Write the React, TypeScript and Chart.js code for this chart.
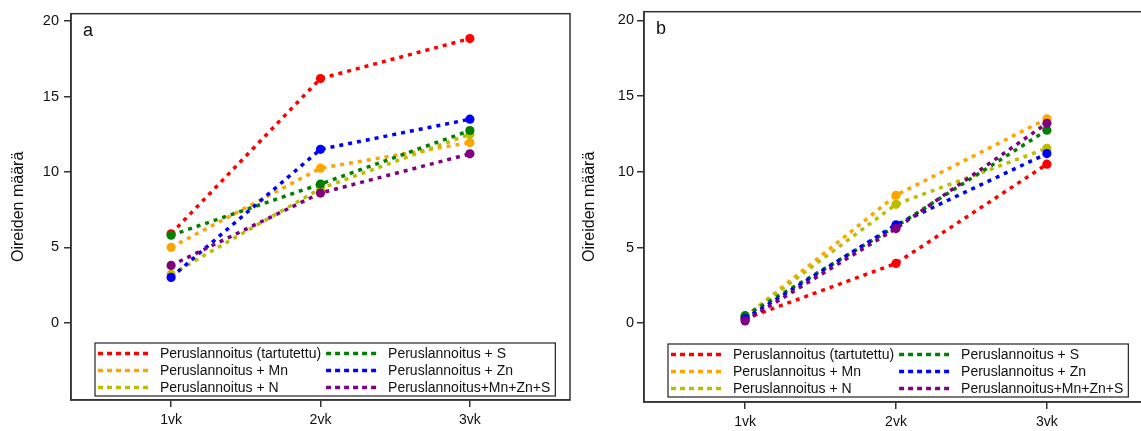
import React, { useEffect, useRef } from 'react';
import { Chart, registerables } from 'chart.js';

Chart.register(...registerables);

// ---- data ----
const categories = ['1vk', '2vk', '3vk'];
const xPositions = [1, 2, 3];
const yTicks = [0, 5, 10, 15, 20];
const yTitle = 'Oireiden määrä';

const seriesLabels = [
  'Peruslannoitus (tartutettu)',
  'Peruslannoitus + Mn',
  'Peruslannoitus + N',
  'Peruslannoitus + S',
  'Peruslannoitus + Zn',
  'Peruslannoitus+Mn+Zn+S',
];
const seriesColors = ['#FF0000', '#FFA500', '#BDBD00', '#008000', '#0000FF', '#800080'];

// panel a
const aTartutettu = [5.9, 16.2, 18.85];
const aMn = [5.0, 10.25, 11.95];
const aN = [3.2, 8.9, 12.5];
const aS = [5.8, 9.2, 12.75];
const aZn = [3.0, 11.5, 13.5];
const aMnZnS = [3.8, 8.6, 11.2];

// panel b
const bTartutettu = [0.3, 3.95, 10.5];
const bMn = [0.4, 8.45, 13.5];
const bN = [0.45, 7.85, 11.55];
const bS = [0.5, 6.4, 12.75];
const bZn = [0.3, 6.5, 11.2];
const bMnZnS = [0.15, 6.25, 13.2];

const panelAData = [aTartutettu, aMn, aN, aS, aZn, aMnZnS];
const panelBData = [bTartutettu, bMn, bN, bS, bZn, bMnZnS];

const FONT = '"Liberation Sans", Arial, Helvetica, sans-serif';

type PanelCfg = {
  letter: string;
  data: number[][];
  yMin: number;
  yMax: number;
  padTop: number;
  padRight: number;
  yAxisWidth: number;
  xAxisHeight: number;
  titlePad: number;
  tickPad: number;
  legendLeft: number;
  legendBottom: number;
};

function makeChart(canvas: HTMLCanvasElement, p: PanelCfg) {
  const datasets = p.data.map((vals, i) => ({
    label: seriesLabels[i],
    data: vals.map((v, j) => ({ x: xPositions[j], y: v })),
    borderColor: seriesColors[i],
    backgroundColor: seriesColors[i],
    pointBackgroundColor: seriesColors[i],
    pointBorderWidth: 0,
    pointRadius: 4.6,
    borderWidth: 3.5,
    borderDash: [4, 5],
    borderCapStyle: 'butt' as const,
    tension: 0,
    order: seriesLabels.length - 1 - i,
  }));

  const framePlugin = {
    id: 'frameLegend',
    afterDraw(chart: any) {
      const { ctx, chartArea: ca } = chart;
      ctx.save();
      ctx.strokeStyle = '#333';
      ctx.lineWidth = 1.5;
      ctx.strokeRect(ca.left, ca.top, ca.right - ca.left, ca.bottom - ca.top);

      ctx.fillStyle = '#111';
      ctx.font = `18px ${FONT}`;
      ctx.textBaseline = 'alphabetic';
      ctx.textAlign = 'left';
      ctx.fillText(p.letter, ca.left + 12, ca.top + 22);

      // legend
      ctx.font = `14px ${FONT}`;
      const boxLeft = ca.left + p.legendLeft;
      const boxBottom = ca.bottom - p.legendBottom;
      const boxTop = boxBottom - 53;
      const text1X = boxLeft + 65;
      const w1 = Math.max(...[0, 1, 2].map((i) => ctx.measureText(seriesLabels[i]).width));
      const sample2X = text1X + w1 + 5;
      const text2X = sample2X + 62;
      const w2 = Math.max(...[3, 4, 5].map((i) => ctx.measureText(seriesLabels[i]).width));
      const boxRight = text2X + w2 + 5;

      ctx.fillStyle = '#fff';
      ctx.fillRect(boxLeft, boxTop, boxRight - boxLeft, boxBottom - boxTop);
      ctx.strokeStyle = '#222';
      ctx.lineWidth = 1.2;
      ctx.strokeRect(boxLeft, boxTop, boxRight - boxLeft, boxBottom - boxTop);

      for (let i = 0; i < 6; i++) {
        const col = Math.floor(i / 3);
        const row = i % 3;
        const y = boxTop + 10.5 + row * 17;
        const sx = col === 0 ? boxLeft + 3 : sample2X;
        const tx = col === 0 ? text1X : text2X;
        ctx.strokeStyle = seriesColors[i];
        ctx.lineWidth = 3.5;
        ctx.setLineDash([5, 4]);
        ctx.beginPath();
        ctx.moveTo(sx, y);
        ctx.lineTo(sx + 50, y);
        ctx.stroke();
        ctx.setLineDash([]);
        ctx.fillStyle = '#111';
        ctx.textBaseline = 'middle';
        ctx.fillText(seriesLabels[i], tx, y + 1);
      }
      ctx.restore();
    },
  };

  return new Chart(canvas, {
    type: 'line',
    data: { datasets },
    plugins: [framePlugin],
    options: {
      responsive: false,
      animation: false,
      layout: { padding: { top: p.padTop, right: p.padRight, left: 0, bottom: 0 } },
      plugins: {
        legend: { display: false },
        tooltip: { enabled: false },
      },
      scales: {
        x: {
          type: 'linear',
          min: 0.33,
          max: 3.67,
          afterBuildTicks: (s: any) => {
            s.ticks = xPositions.map((v) => ({ value: v }));
          },
          afterFit: (s: any) => {
            s.height = p.xAxisHeight;
          },
          grid: {
            drawOnChartArea: false,
            drawTicks: true,
            tickLength: 7,
            color: '#333',
            lineWidth: 1.5,
          },
          border: { display: true, color: '#333', width: 1.5 },
          ticks: {
            padding: 5,
            color: '#111',
            font: { family: FONT, size: 14 },
            callback: (v: any) => {
              const idx = xPositions.indexOf(Number(v));
              return idx >= 0 ? categories[idx] : '';
            },
            maxRotation: 0,
          },
        },
        y: {
          type: 'linear',
          min: p.yMin,
          max: p.yMax,
          afterBuildTicks: (s: any) => {
            s.ticks = yTicks.map((v) => ({ value: v }));
          },
          afterFit: (s: any) => {
            s.width = p.yAxisWidth;
          },
          grid: {
            drawOnChartArea: false,
            drawTicks: true,
            tickLength: 7,
            color: '#333',
            lineWidth: 1.5,
          },
          border: { display: true, color: '#333', width: 1.5 },
          ticks: {
            padding: p.tickPad,
            color: '#111',
            font: { family: FONT, size: 14.5 },
          },
          title: {
            display: true,
            text: yTitle,
            color: '#111',
            font: { family: FONT, size: 16 },
            padding: { top: p.titlePad, bottom: 0 },
          },
        },
      },
    },
  } as any);
}

function Panel({ cfg, left, width }: { cfg: PanelCfg; left: number; width: number }) {
  const ref = useRef<HTMLCanvasElement | null>(null);
  useEffect(() => {
    if (!ref.current) return;
    const chart = makeChart(ref.current, cfg);
    return () => chart.destroy();
  }, []);
  return (
    <canvas
      ref={ref}
      width={width}
      height={431}
      style={{ position: 'absolute', left, top: 0, width, height: 431, display: 'block' }}
    />
  );
}

const cfgA: PanelCfg = {
  letter: 'a',
  data: panelAData,
  yMin: -5.13,
  yMax: 20.5,
  padTop: 11,
  padRight: 5,
  yAxisWidth: 71,
  xAxisHeight: 31,
  titlePad: 9,
  tickPad: 5,
  legendLeft: 24,
  legendBottom: 4,
};

const cfgB: PanelCfg = {
  letter: 'b',
  data: panelBData,
  yMin: -5.2,
  yMax: 20.57,
  padTop: 8,
  padRight: 7,
  yAxisWidth: 69,
  xAxisHeight: 29,
  titlePad: 5,
  tickPad: 3,
  legendLeft: 24,
  legendBottom: 5,
};

export default function App() {
  return (
    <div
      style={{
        position: 'fixed',
        left: 0,
        top: 0,
        width: 1141,
        height: 431,
        overflow: 'hidden',
        background: '#fff',
      }}
    >
      <Panel cfg={cfgA} left={0} width={575} />
      <Panel cfg={cfgB} left={575} width={580} />
    </div>
  );
}
